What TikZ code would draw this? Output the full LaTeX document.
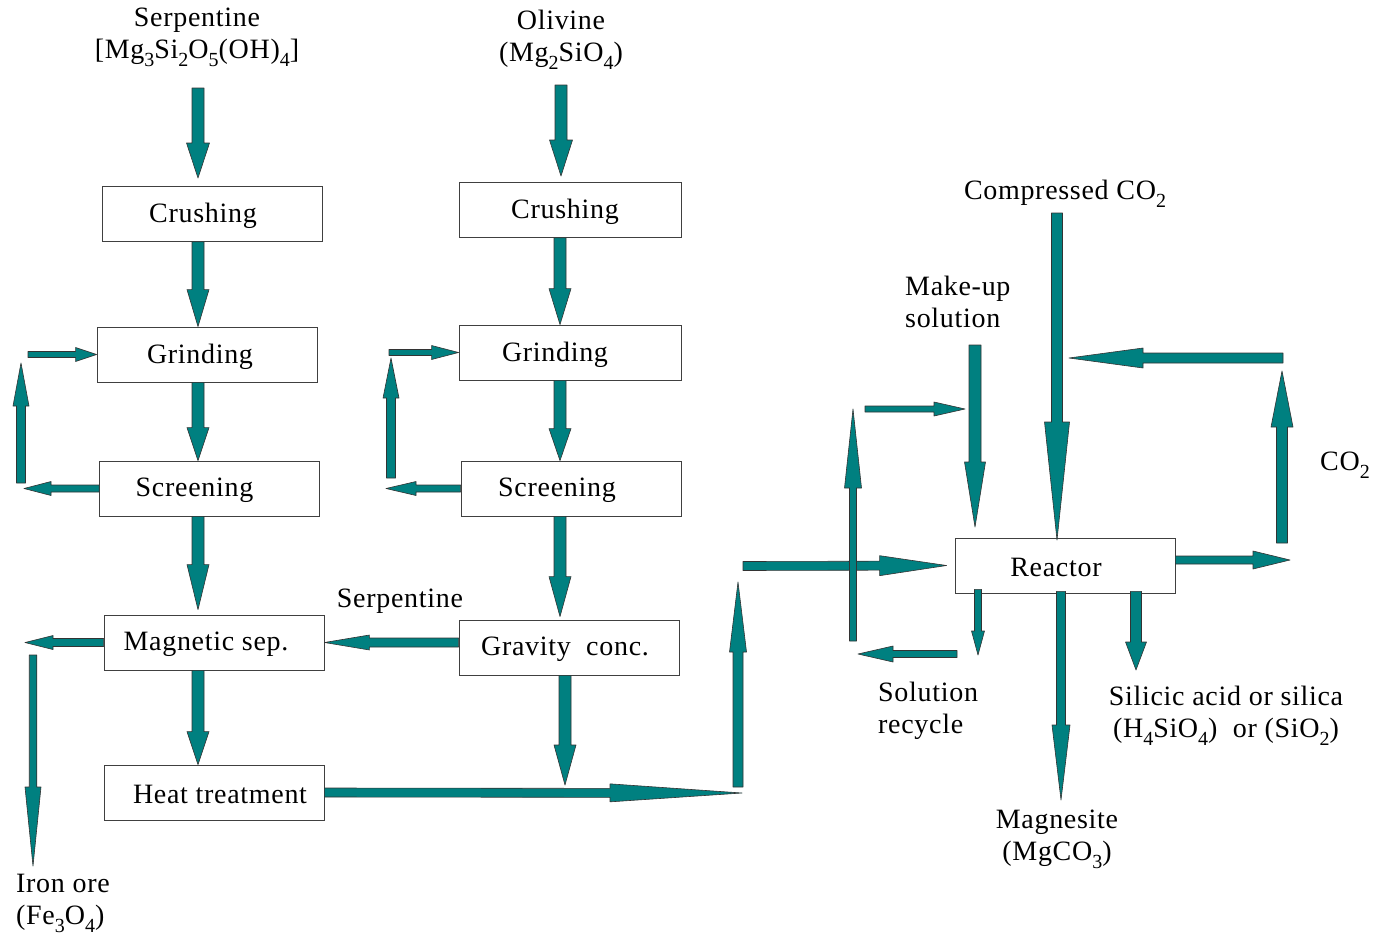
\documentclass[tikz,border=0pt]{standalone}
\usepackage{fontspec}
\setmainfont{Liberation Serif}[LetterSpace=2.5]
\usepackage{tikz}
\usetikzlibrary{calc,positioning}
\definecolor{flowteal}{HTML}{008080}
\definecolor{boxline}{HTML}{404040}

\newcommand{\sub}[1]{\raisebox{-0.28em}{\fontsize{20}{20}\selectfont #1}}
% block arrow: start, tip, half shaft, head length, half head
\newcommand{\flowarrow}[5]{%
  \coordinate (fa-s) at #1;
  \coordinate (fa-t) at #2;
  \coordinate (fa-h) at ($(fa-t)!#4!(fa-s)$);
  \filldraw[flow] ($(fa-s)!#3!90:(fa-t)$) -- ($(fa-h)!#3!90:(fa-t)$)
    -- ($(fa-h)!#5!90:(fa-t)$) -- (fa-t) -- ($(fa-h)!#5!-90:(fa-t)$)
    -- ($(fa-h)!#3!-90:(fa-t)$) -- ($(fa-s)!#3!-90:(fa-t)$) -- cycle;}

\begin{document}
\begin{tikzpicture}[x=1pt, y=-1pt,
    every node/.style={font=\fontsize{28}{32}\selectfont, inner sep=2pt},
    every label/.style={yshift=-2},
    box/.style={draw=boxline, line width=0.8pt, fill=white,
      minimum width=220pt, minimum height=55pt, inner sep=0pt},
    flow/.style={fill=flowteal, draw=black!80, line width=0.6pt, line join=round}]
\useasboundingbox (0,0) rectangle (1375,934);

% feeds and labels
\node[align=center] (serpA) at (197,37) {Serpentine\\{[}Mg\sub3Si\sub2O\sub5(OH)\sub4{]}};
\node[align=center] (olivA) at (561,40) {Olivine\\(Mg\sub2SiO\sub4)};
\node (compCO) at (1065,194) {Compressed CO\sub2};
\node[anchor=west, align=left] (makeup) at (903,302) {Make-up\\solution};
\node (co2out) at (1345,465) {CO\sub2};
\node (serpB) at (400,601) {Serpentine};
\node[anchor=west, align=left] (recycle) at (876,711) {Solution\\recycle};
\node[align=center] (silica) at (1226,716) {Silicic acid or silica\\(H\sub4SiO\sub4)\ \ or (SiO\sub2)};
\node[align=center] (magnesite) at (1057,839) {Magnesite\\(MgCO\sub3)};
\node[anchor=west, align=left] (ironore) at (14,903) {Iron ore\\(Fe\sub3O\sub4)};

% process boxes
\node[box, label={[xshift=-9]center:Crushing}] (crushA) at (212,214) {};
\node[box, label={[xshift=-7]center:Grinding}] (grindA) at (207,354.5) {};
\node[box, label={[xshift=-15]center:Screening}] (screenA) at (209.5,488.5) {};
\node[box, label={[xshift=-8]center:Magnetic sep.}] (magsep) at (214,642.5) {};
\node[box, label={[xshift=6]center:Heat treatment}] (heat) at (214,792.5) {};
\node[box, minimum width=222pt, label={[xshift=-5]center:Crushing}] (crushB) at (570,210) {};
\node[box, minimum width=222pt, label={[xshift=-15]center:Grinding}] (grindB) at (570,352.5) {};
\node[box, label={[xshift=-14]center:Screening}] (screenB) at (571,488.5) {};
\node[box, label={[xshift=-4]center:Gravity\ \ conc.}] (gravity) at (569,647.5) {};
\node[box, label={[xshift=-9]center:Reactor}] (reactor) at (1065,565.5) {};

% free ends
\coordinate (colA) at (198,0);
\coordinate (colB) at (560,0);
\coordinate (colG) at (565,0);
\coordinate (feedA) at (198,88);
\coordinate (feedB) at (561,85);
\coordinate (retA-in) at (24,488.5);
\coordinate (retA-lo) at (21,483);
\coordinate (retA-hi) at (21,363);
\coordinate (retA-out) at (28,354.5);
\coordinate (retB-in) at (386,488.5);
\coordinate (retB-lo) at (391,478);
\coordinate (retB-hi) at (391,358);
\coordinate (retB-out) at (389,352.5);
\coordinate (ironL) at (25,642.5);
\coordinate (ironT) at (33,655);
\coordinate (ironB) at (33,866);
\coordinate (gravB) at (565,785);
\coordinate (mixA) at (742,793);
\coordinate (riseA-lo) at (738,787);
\coordinate (riseA-hi) at (738,582);
\coordinate (feedR) at (743,566);
\coordinate (riseB-lo) at (853,641);
\coordinate (riseB-hi) at (853,409);
\coordinate (mkL) at (865,409);
\coordinate (mkR) at (965,409);
\coordinate (mkT) at (975,345);
\coordinate (mkB) at (975,527);
\coordinate (coT) at (1057,213);
\coordinate (coB) at (1057,540);
\coordinate (backR) at (1283,358);
\coordinate (backL) at (1069,358);
\coordinate (ventLo) at (1282,543);
\coordinate (ventHi) at (1282,371);
\coordinate (rxOut) at (1290,560);
\coordinate (solB) at (978,655);
\coordinate (solR) at (957,654);
\coordinate (solL) at (858,654);
\coordinate (mgB) at (1061,800);
\coordinate (siB) at (1136,670);
\coordinate (feedA-t) at (198,178);
\coordinate (feedB-t) at (561,176);

% serpentine line
\flowarrow{(feedA)}{(feedA-t)}{6pt}{35pt}{11.5pt}
\flowarrow{(crushA.south -| colA)}{(grindA.north -| colA)}{6pt}{37pt}{11pt}
\flowarrow{(grindA.south -| colA)}{(screenA.north -| colA)}{6pt}{33pt}{11pt}
\flowarrow{(screenA.south -| colA)}{($(magsep.north -| colA)+(0,-5)$)}{6pt}{45pt}{11pt}
\flowarrow{(magsep.south -| colA)}{(heat.north -| colA)}{6pt}{33pt}{11pt}
\flowarrow{(screenA.west)}{(retA-in)}{3.5pt}{27pt}{7pt}
\flowarrow{(retA-lo)}{(retA-hi)}{4.5pt}{43pt}{8pt}
\flowarrow{(retA-out)}{(grindA.west)}{3pt}{21pt}{7pt}
\flowarrow{(magsep.west)}{(ironL)}{4pt}{28pt}{7pt}
\flowarrow{(ironT)}{(ironB)}{3.75pt}{79pt}{8pt}

% olivine line
\flowarrow{(feedB)}{(feedB-t)}{6pt}{36pt}{11.5pt}
\flowarrow{(crushB.south -| colB)}{(grindB.north -| colB)}{6pt}{36pt}{11pt}
\flowarrow{(grindB.south -| colB)}{(screenB.north -| colB)}{6pt}{32pt}{11pt}
\flowarrow{(screenB.south -| colB)}{($(gravity.north -| colB)+(0,-3)$)}{6pt}{40pt}{11pt}
\flowarrow{(screenB.west)}{(retB-in)}{3.5pt}{30pt}{7pt}
\flowarrow{(retB-lo)}{(retB-hi)}{4.5pt}{40pt}{8pt}
\flowarrow{(retB-out)}{(grindB.west)}{3pt}{27pt}{7pt}
\flowarrow{(gravity.west |- magsep.east)}{(magsep.east)}{4.5pt}{45pt}{7.5pt}
\flowarrow{(gravity.south -| colG)}{(gravB)}{6pt}{40pt}{11pt}

% to the reactor
\flowarrow{(heat.east)}{(mixA)}{4.5pt}{132pt}{9pt}
\flowarrow{(riseA-lo)}{(riseA-hi)}{5pt}{70pt}{8.5pt}
\flowarrow{(feedR)}{($(reactor.west)+(-8,0)$)}{4.5pt}{67pt}{10pt}
\flowarrow{(riseB-lo)}{(riseB-hi)}{3.5pt}{79pt}{8.5pt}
\flowarrow{(mkL)}{(mkR)}{3pt}{31pt}{7pt}
\flowarrow{(mkT)}{(mkB)}{6pt}{65pt}{10.5pt}
\flowarrow{(coT)}{(coB)}{5.5pt}{118pt}{12.5pt}
\flowarrow{(backR)}{(backL)}{5pt}{74pt}{10pt}
\flowarrow{(ventLo)}{(ventHi)}{5.5pt}{56pt}{11pt}
\flowarrow{(reactor.east |- rxOut)}{(rxOut)}{4pt}{37pt}{9pt}

% reactor outputs
\flowarrow{($(reactor.south -| solB)+(0,-4)$)}{(solB)}{3.5pt}{24pt}{6.5pt}
\flowarrow{(solR)}{(solL)}{3.5pt}{35pt}{8pt}
\flowarrow{($(reactor.south -| mgB)+(0,-2)$)}{(mgB)}{4.5pt}{75pt}{9pt}
\flowarrow{($(reactor.south -| siB)+(0,-2)$)}{(siB)}{5.5pt}{28pt}{10.5pt}
\end{tikzpicture}
\end{document}
